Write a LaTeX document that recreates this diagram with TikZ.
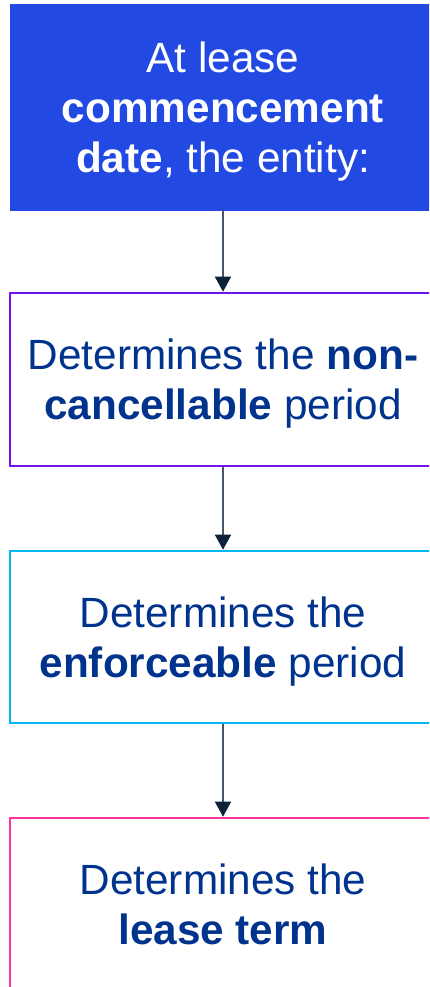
\documentclass[tikz,border=0pt]{standalone}
\usepackage{fontspec}
\setmainfont{Liberation Sans}
\usetikzlibrary{arrows.meta}
\definecolor{boxblue}{RGB}{34,74,226}
\definecolor{txtblue}{RGB}{0,51,141}
\definecolor{bpurple}{RGB}{114,19,234}
\definecolor{bcyan}{RGB}{0,184,245}
\definecolor{bpink}{RGB}{253,52,156}
\definecolor{arrline}{RGB}{70,85,105}
\definecolor{arrhead}{RGB}{12,34,56}
\tikzset{
  stepbox/.style={rectangle, minimum width=426pt, inner sep=0pt, line width=2.6pt,
    align=center, text depth=0pt, font=\fontsize{42.3}{50}\selectfont, text=txtblue},
  flowarrow/.style={draw=arrline, line width=1.5pt,
    -{Triangle[length=15pt,width=16pt,color=arrhead]}, shorten >=0pt}
}
\begin{document}
\begin{tikzpicture}[x=1pt,y=1pt]
\clip (0,0) rectangle (429,-987);
\fill[white] (0,0) rectangle (429,-987);
\node[stepbox, fill=boxblue, draw=boxblue, line width=0.5pt, text=white, minimum height=206pt] (b1) at (223,-107)
  {At lease\\\textbf{commencement}\\\textbf{date}, the entity:};
\node[stepbox, draw=bpurple, minimum height=173pt] (b2) at (223,-379.5)
  {Determines the \textbf{non-}\\\textbf{cancellable} period};
\node[stepbox, draw=bcyan, minimum height=172pt] (b3) at (223,-637)
  {Determines the\\\textbf{enforceable} period};
\node[stepbox, draw=bpink, minimum height=173pt] (b4) at (223,-904.5)
  {Determines the\\\textbf{lease term}};
\draw[flowarrow] (b1.south) -- (b2.north);
\draw[flowarrow] (b2.south) -- (b3.north);
\draw[flowarrow] (b3.south) -- (b4.north);
\end{tikzpicture}
\end{document}
